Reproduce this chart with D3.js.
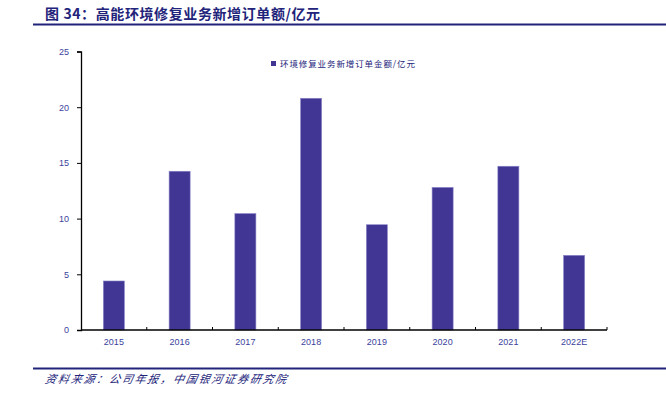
<!DOCTYPE html>
<html>
<head>
<meta charset="utf-8">
<script src="https://cdn.jsdelivr.net/npm/d3@7"></script>
<style>
	body { margin: 0; background: #fff; }
	svg { display: block; font-family: "Liberation Sans", Arial, sans-serif; }
</style>
</head>
<body>
<svg id="chart" width="666" height="393"></svg>
<script>
const years = ["2015", "2016", "2017", "2018", "2019", "2020", "2021", "2022E"];
const orders = [4.4, 14.25, 10.45, 20.8, 9.45, 12.8, 14.7, 6.7];
const yTicks = [0, 5, 10, 15, 20, 25];

const seriesName = "环境修复业务新增订单金额/亿元",
	  titleText = "图 34：高能环境修复业务新增订单额/亿元",
	  sourceText = "资料来源：公司年报，中国银河证券研究院";

const navy = "#22237a",
	  barColor = "#413694",
	  labelColor = "#3b3f9c";

let svg = d3.select("#chart");

let x = d3.scaleBand()
		.domain(years)
		.range([81, 607])
		.paddingInner(0.68)
		.paddingOuter(0.34);

let y = d3.scaleLinear()
		.domain([0, 25])
		.range([330, 51.5]);

// title + rules
svg.append("text")
	.attr("x", 45)
	.attr("y", 19)
	.style("font-family", "'Noto Sans CJK SC', sans-serif")
	.style("font-weight", "bold")
	.style("font-size", "14px")
	.style("letter-spacing", "0.6px")
	.style("fill", navy)
	.text(titleText);

svg.append("line")
	.attr("x1", 33).attr("x2", 666)
	.attr("y1", 24.5).attr("y2", 24.5)
	.style("stroke", navy)
	.style("stroke-width", 2);

svg.append("line")
	.attr("x1", 33).attr("x2", 666)
	.attr("y1", 368.5).attr("y2", 368.5)
	.style("stroke", navy)
	.style("stroke-width", 2);

svg.append("text")
	.attr("x", 45)
	.attr("y", 383)
	.style("font-family", "'Noto Sans CJK SC', sans-serif")
	.style("font-style", "italic")
	.style("font-size", "11px")
	.style("letter-spacing", "1.8px")
	.style("fill", navy)
	.attr("transform", "skewX(-12) translate(81,0)")
	.text(sourceText);

// bars
svg.append("g").selectAll("rect")
	.data(orders)
	.join("rect")
		.attr("x", (d, i) => x(years[i]))
		.attr("y", d => y(d))
		.attr("width", x.bandwidth())
		.attr("height", d => y(0) - y(d))
		.style("fill", barColor)
		.style("stroke", "#8a84c8")
		.style("stroke-width", 0.6);

// y axis
let yAxis = svg.append("g")
	.attr("transform", "translate(81,0)")
	.call(d3.axisLeft(y).tickValues(yTicks).tickSize(4).tickPadding(8));

yAxis.select(".domain").style("stroke", "#000").style("stroke-width", 1.3);
yAxis.selectAll(".tick line").style("stroke", "#000");
yAxis.selectAll("text")
	.style("font-size", "9px")
	.style("fill", labelColor);

// x axis, ticks on category edges pointing up
let xAxis = svg.append("g")
	.attr("transform", "translate(0,330)");

xAxis.append("line")
	.attr("x1", 81).attr("x2", 607)
	.style("stroke", "#000")
	.style("stroke-width", 1.3);

let step = x.step();
xAxis.selectAll(".edge")
	.data(years)
	.join("line")
		.attr("class", "edge")
		.attr("x1", (d, i) => 81 + (i + 1) * step)
		.attr("x2", (d, i) => 81 + (i + 1) * step)
		.attr("y1", 0).attr("y2", -3)
		.style("stroke", "#000");

xAxis.selectAll(".lbl")
	.data(years)
	.join("text")
		.attr("class", "lbl")
		.attr("x", d => x(d) + x.bandwidth() / 2)
		.attr("y", 15)
		.attr("text-anchor", "middle")
		.style("font-size", "9px")
		.style("fill", labelColor)
		.text(d => d);

// legend
let legend = svg.append("g").attr("transform", "translate(271,64)");
legend.append("rect")
	.attr("x", 0).attr("y", -3)
	.attr("width", 5).attr("height", 5)
	.style("fill", barColor);
legend.append("text")
	.attr("x", 9).attr("y", 3)
	.style("font-family", "'Noto Sans CJK SC', sans-serif")
	.style("font-size", "8.5px")
	.style("letter-spacing", "0.9px")
	.style("fill", navy)
	.text(seriesName);
</script>
</body>
</html>
